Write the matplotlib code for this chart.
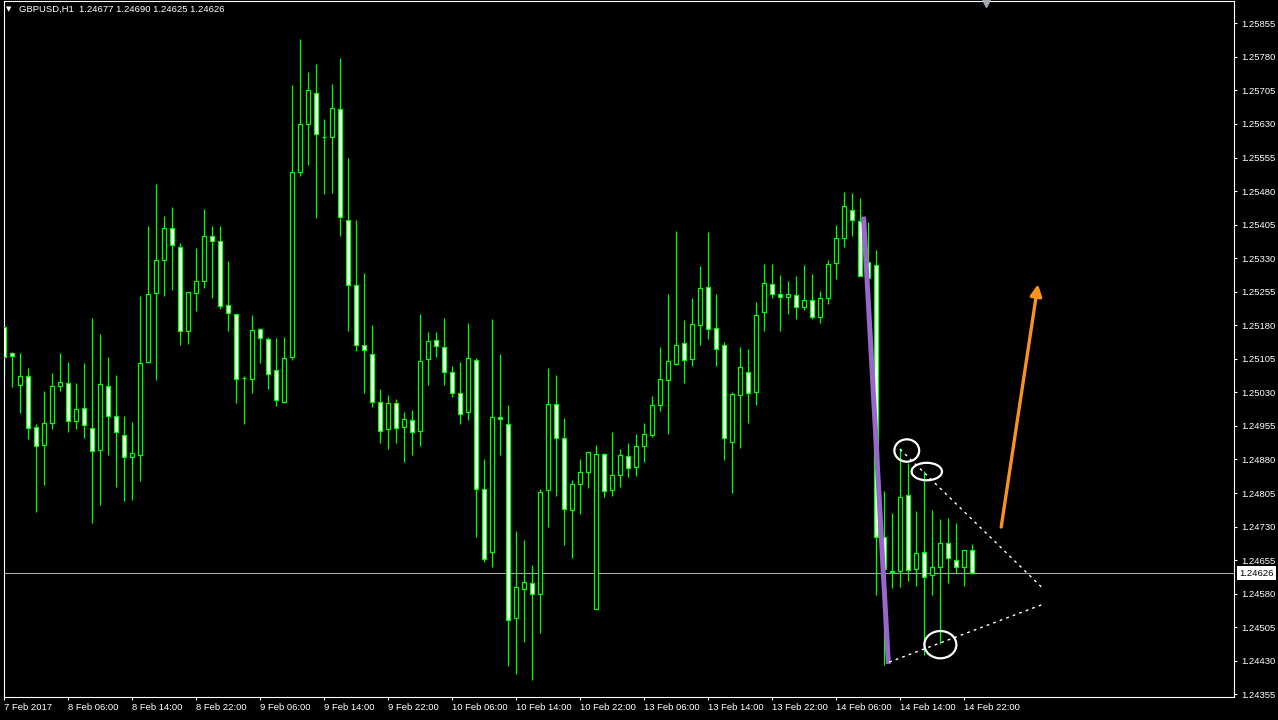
import matplotlib
matplotlib.use('Agg')
import matplotlib.pyplot as plt
from matplotlib.patches import Rectangle, Ellipse
from matplotlib.transforms import blended_transform_factory

# GBPUSD H1 bars (open, high, low, close)
opens = [1.25176, 1.25117, 1.25047, 1.25067, 1.24953, 1.24913, 1.24962, 1.25044, 1.25051, 1.24966,
         1.24996, 1.24951, 1.24902, 1.25044, 1.24977, 1.24935, 1.24886, 1.24890, 1.25098, 1.25252,
         1.25327, 1.25398, 1.25356, 1.25167, 1.25252, 1.25279, 1.25380, 1.25369, 1.25226, 1.25205,
         1.25063, 1.25060, 1.25172, 1.25150, 1.25080, 1.25008, 1.25109, 1.25523, 1.25630, 1.25700,
         1.25601, 1.25600, 1.25664, 1.25416, 1.25270, 1.25135, 1.25116, 1.25008, 1.24947, 1.25006,
         1.24953, 1.24969, 1.24944, 1.25105, 1.25147, 1.25132, 1.25076, 1.25029, 1.24986, 1.25102,
         1.24814, 1.24674, 1.24975, 1.24960, 1.24526, 1.24591, 1.24604, 1.24580, 1.24812, 1.25003,
         1.24928, 1.24768, 1.24826, 1.24853, 1.24546, 1.24893, 1.24812, 1.24845, 1.24888, 1.24863,
         1.24910, 1.24935, 1.25001, 1.25058, 1.25094, 1.25141, 1.25105, 1.25181, 1.25266, 1.25174,
         1.25136, 1.24920, 1.25025, 1.25076, 1.25030, 1.25210, 1.25273, 1.25250, 1.25244, 1.25248,
         1.25220, 1.25236, 1.25198, 1.25240, 1.25319, 1.25374, 1.25437, 1.25412, 1.25321, 1.25314,
         1.24706, 1.24631, 1.24631, 1.24801, 1.24635, 1.24674, 1.24621, 1.24639, 1.24693, 1.24655,
         1.24639, 1.24677]
highs = [1.25186, 1.25121, 1.25117, 1.25084, 1.24960, 1.25033, 1.25074, 1.25119, 1.25097, 1.25050,
         1.25095, 1.25196, 1.25160, 1.25110, 1.25068, 1.24978, 1.24963, 1.25245, 1.25401, 1.25495,
         1.25424, 1.25445, 1.25365, 1.25255, 1.25352, 1.25441, 1.25403, 1.25401, 1.25323, 1.25205,
         1.25067, 1.25204, 1.25175, 1.25154, 1.25151, 1.25153, 1.25718, 1.25821, 1.25746, 1.25764,
         1.25641, 1.25720, 1.25777, 1.25554, 1.25415, 1.25297, 1.25180, 1.25037, 1.25023, 1.25016,
         1.24985, 1.24990, 1.25206, 1.25165, 1.25165, 1.25196, 1.25088, 1.25097, 1.25184, 1.25107,
         1.24882, 1.25194, 1.25115, 1.25001, 1.24719, 1.24699, 1.24643, 1.24814, 1.25084, 1.25068,
         1.24972, 1.24833, 1.24882, 1.24897, 1.24913, 1.24894, 1.24941, 1.24903, 1.24916, 1.24936,
         1.24961, 1.25021, 1.25131, 1.25249, 1.25390, 1.25191, 1.25242, 1.25312, 1.25388, 1.25251,
         1.25143, 1.25030, 1.25131, 1.25126, 1.25233, 1.25316, 1.25316, 1.25292, 1.25278, 1.25290,
         1.25315, 1.25294, 1.25256, 1.25325, 1.25405, 1.25479, 1.25476, 1.25465, 1.25410, 1.25348,
         1.24810, 1.24761, 1.24906, 1.24872, 1.24765, 1.24855, 1.24768, 1.24747, 1.24749, 1.24739,
         1.24678, 1.24690]
lows = [1.25071, 1.25042, 1.24984, 1.24926, 1.24763, 1.24823, 1.24948, 1.25033, 1.24941, 1.24948,
        1.24929, 1.24737, 1.24779, 1.24889, 1.24819, 1.24788, 1.24790, 1.24831, 1.25096, 1.25057,
        1.25245, 1.25258, 1.25136, 1.25139, 1.25212, 1.25264, 1.25241, 1.25217, 1.25167, 1.25006,
        1.24959, 1.25028, 1.25096, 1.25038, 1.25000, 1.25006, 1.25102, 1.25514, 1.25538, 1.25420,
        1.25474, 1.25476, 1.25380, 1.25167, 1.25123, 1.25029, 1.24998, 1.24917, 1.24904, 1.24917,
        1.24875, 1.24890, 1.24910, 1.25046, 1.25109, 1.25046, 1.25020, 1.24959, 1.24969, 1.24707,
        1.24651, 1.24640, 1.24890, 1.24418, 1.24400, 1.24472, 1.24387, 1.24491, 1.24729, 1.24798,
        1.24689, 1.24659, 1.24758, 1.24816, 1.24546, 1.24796, 1.24798, 1.24818, 1.24840, 1.24844,
        1.24875, 1.24930, 1.24988, 1.24937, 1.25091, 1.25051, 1.25089, 1.25136, 1.25149, 1.25089,
        1.24878, 1.24805, 1.24906, 1.24962, 1.25002, 1.25167, 1.25241, 1.25167, 1.25205, 1.25195,
        1.25214, 1.25195, 1.25184, 1.25227, 1.25284, 1.25354, 1.25380, 1.25290, 1.25286, 1.24578,
        1.24421, 1.24592, 1.24594, 1.24608, 1.24598, 1.24442, 1.24576, 1.24468, 1.24604, 1.24627,
        1.24597, 1.24625]
closes = [1.25110, 1.25111, 1.25067, 1.24950, 1.24911, 1.24962, 1.25044, 1.25054, 1.24965, 1.24993,
          1.24958, 1.24900, 1.25049, 1.24977, 1.24942, 1.24886, 1.24895, 1.25096, 1.25249, 1.25326,
          1.25398, 1.25360, 1.25167, 1.25255, 1.25279, 1.25380, 1.25369, 1.25224, 1.25208, 1.25060,
          1.25063, 1.25169, 1.25152, 1.25070, 1.25014, 1.25107, 1.25523, 1.25630, 1.25705, 1.25608,
          1.25601, 1.25666, 1.25421, 1.25269, 1.25135, 1.25125, 1.25009, 1.24944, 1.25006, 1.24950,
          1.24970, 1.24942, 1.25100, 1.25145, 1.25133, 1.25076, 1.25028, 1.24982, 1.25107, 1.24814,
          1.24657, 1.24975, 1.24970, 1.24521, 1.24594, 1.24606, 1.24580, 1.24808, 1.25004, 1.24929,
          1.24770, 1.24826, 1.24852, 1.24897, 1.24893, 1.24810, 1.24845, 1.24889, 1.24862, 1.24910,
          1.24936, 1.25001, 1.25059, 1.25100, 1.25135, 1.25102, 1.25183, 1.25264, 1.25172, 1.25126,
          1.24929, 1.25027, 1.25087, 1.25028, 1.25203, 1.25275, 1.25251, 1.25244, 1.25250, 1.25220,
          1.25236, 1.25198, 1.25240, 1.25316, 1.25374, 1.25446, 1.25415, 1.25290, 1.25286, 1.24706,
          1.24635, 1.24628, 1.24796, 1.24633, 1.24672, 1.24617, 1.24639, 1.24693, 1.24660, 1.24639,
          1.24677, 1.24626]

time_ticks = [0, 8, 16, 24, 32, 40, 48, 56, 64, 72, 80, 88, 96, 104, 112, 120]
time_labels = ['7 Feb 2017', '8 Feb 06:00', '8 Feb 14:00', '8 Feb 22:00', '9 Feb 06:00',
               '9 Feb 14:00', '9 Feb 22:00', '10 Feb 06:00', '10 Feb 14:00', '10 Feb 22:00',
               '13 Feb 06:00', '13 Feb 14:00', '13 Feb 22:00', '14 Feb 06:00', '14 Feb 14:00',
               '14 Feb 22:00']
price_ticks = [1.24355 + 0.00075 * k for k in range(21)]
last_price = 1.24626

# hand-drawn analysis objects (bar index, price)
purple_line = ([107.4, 110.5], [1.25423, 1.24423])
upper_trend = ([111.96, 129.8], [1.24903, 1.24592])
lower_trend = ([110.6, 129.8], [1.24427, 1.24556])
circles = [(112.8, 1.24900, 3.1, 0.00050), (115.3, 1.24853, 3.8, 0.00039), (117.0, 1.24466, 4.0, 0.00061)]
arrow_from = (124.6, 1.24729)
arrow_to = (129.2, 1.25272)

green = '#00ff00'
grey = '#a0a8b0'
plt.rcParams['font.family'] = ['Liberation Sans', 'DejaVu Sans']

fig = plt.figure(figsize=(12.78, 7.2), dpi=100, facecolor='black')
ax = fig.add_axes([3.5 / 1278, 23 / 720, 1230.5 / 1278, 696.5 / 720], facecolor='black')

ax.axhline(last_price, color=grey, lw=0.8, zorder=1)

for i in range(len(opens)):
    o, h, l, c = opens[i], highs[i], lows[i], closes[i]
    ax.vlines(i, l, h, color=green, lw=0.9, zorder=2)
    face = 'white' if c < o else 'black'
    ax.add_patch(Rectangle((i - 0.26, min(o, c)), 0.52, abs(c - o), facecolor=face,
                           edgecolor=green, lw=0.9, zorder=3))

ax.plot(*purple_line, color='#9966cc', lw=3.6, solid_capstyle='butt', zorder=5)
ax.plot(*upper_trend, color='white', lw=1, ls=(0, (2, 3)), zorder=5)
ax.plot(*lower_trend, color='white', lw=1, ls=(0, (2, 3)), zorder=5)
for cx, cy, w, hgt in circles:
    ax.add_patch(Ellipse((cx, cy), w, hgt, fill=False, edgecolor='white', lw=1.6, zorder=6))
ax.annotate('', xy=arrow_to, xytext=arrow_from,
            arrowprops=dict(arrowstyle='-|>', color='#f7931e', lw=2.4, mutation_scale=17,
                            shrinkA=0, shrinkB=0), zorder=6)

ax.set_xlim(-0.1, 153.7)
ax.set_ylim(1.24349, 1.25906)

ax.yaxis.tick_right()
ax.set_yticks(price_ticks)
ax.set_yticklabels(['%.5f' % p for p in price_ticks])
ax.set_xticks(time_ticks)
ax.set_xticklabels(time_labels)
for lbl in ax.get_xticklabels():
    lbl.set_horizontalalignment('left')
ax.tick_params(axis='both', colors='white', labelcolor='white', labelsize=6.8,
               length=2.5, width=0.8, direction='out')
ax.tick_params(axis='x', pad=1.5)
ax.tick_params(axis='y', pad=2.5)
for s in ax.spines.values():
    s.set_color('white')
    s.set_linewidth(0.8)

# current price label on the scale
trans = blended_transform_factory(ax.transAxes, ax.transData)
ax.text(1.0 + 5.5 / 1230.5, last_price, '%.5f' % last_price, transform=trans, ha='left',
        va='center', fontsize=6.8, color='black', clip_on=False,
        bbox=dict(boxstyle='square,pad=0.25', fc='white', ec='none'))

# chart shift marker
ax.plot([122.7], [1.25900], marker='v', color=grey, ms=6, clip_on=False, zorder=7)

fig.text(6 / 1278, 1 - 9 / 720, '\u25bc', color='white', fontsize=5, va='center',
         family=['DejaVu Sans'])
fig.text(19 / 1278, 1 - 9 / 720, 'GBPUSD,H1  1.24677 1.24690 1.24625 1.24626', color='white',
         fontsize=6.8, va='center')

fig.savefig('out.png', dpi=100, facecolor='black')
